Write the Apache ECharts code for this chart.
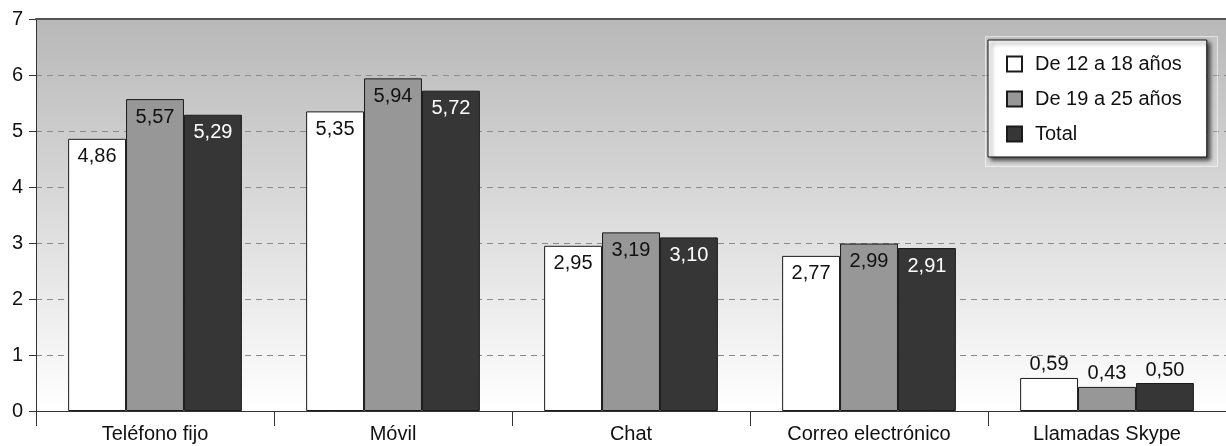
<!DOCTYPE html>
<html>
<head>
<meta charset="utf-8">
<script src="https://cdn.jsdelivr.net/npm/echarts@6/dist/echarts.min.js"></script>
<style>
  html, body { margin: 0; padding: 0; background: #fff; }
  #chart { width: 1226px; height: 446px; }
</style>
</head>
<body>
<div id="chart"></div>
<script>
// Categories and values per age group
var categories = ['Teléfono fijo', 'Móvil', 'Chat', 'Correo electrónico', 'Llamadas Skype'];
var seriesNames = ['De 12 a 18 años', 'De 19 a 25 años', 'Total'];
var age12to18 = [4.86, 5.35, 2.95, 2.77, 0.59];
var age19to25 = [5.57, 5.94, 3.19, 2.99, 0.43];
var total = [5.29, 5.72, 3.10, 2.91, 0.50];
var yTicks = [0, 1, 2, 3, 4, 5, 6, 7];

var FONT = '"Liberation Sans", Arial, Helvetica, sans-serif';
var FS = 20;
var fills = ['#ffffff', '#979797', '#363636'];
var labelColors = ['#111', '#111', '#fff'];

function fmt(v) { return v.toFixed(2).replace('.', ','); }

function makeSeries(name, values, idx) {
  return {
    name: name,
    type: 'bar',
    barGap: '0%',
    barCategoryGap: '27%',
    itemStyle: { color: fills[idx], borderColor: '#1a1a1a', borderWidth: 1 },
    label: {
      show: true,
      position: 'insideTop',
      distance: 8,
      fontFamily: FONT,
      fontSize: FS,
      color: labelColors[idx],
      formatter: function (p) { return fmt(p.value); }
    },
    data: values.map(function (v) {
      // short bars carry their label above the bar
      return v < 1 ? { value: v, label: { position: 'top', distance: 3, color: '#111' } } : v;
    })
  };
}

var chart = echarts.init(document.getElementById('chart'), null, { renderer: 'canvas' });
chart.setOption({
  animation: false,
  backgroundColor: '#ffffff',
  textStyle: { fontFamily: FONT },
  grid: {
    left: 36, right: 0, top: 19, bottom: 35,
    show: true,
    borderWidth: 0,
    backgroundColor: new echarts.graphic.LinearGradient(0, 0, 0, 1, [
      { offset: 0, color: '#b8b8b8' },
      { offset: 1, color: '#ffffff' }
    ])
  },
  graphic: [{
    // soft halo panel behind the legend
    type: 'rect',
    z: 3,
    shape: { x: 985.5, y: 36.5, width: 232, height: 130 },
    style: { fill: 'rgba(255,255,255,0.12)', stroke: 'rgba(255,255,255,0.55)', lineWidth: 1 }
  }],
  legend: {
    orient: 'vertical',
    left: 988, top: 40,
    padding: [14, 25, 13, 18],
    itemGap: 15,
    itemWidth: 15, itemHeight: 15,
    icon: 'rect',
    z: 5,
    backgroundColor: '#ffffff',
    borderColor: '#111',
    borderWidth: 1,
    shadowColor: 'rgba(0,0,0,0.65)',
    shadowBlur: 4,
    shadowOffsetX: 3,
    shadowOffsetY: 3,
    textStyle: { fontFamily: FONT, fontSize: FS, color: '#111', padding: [0, 0, 0, 8] },
    data: seriesNames
  },
  xAxis: [{
    type: 'category',
    data: categories,
    axisLine: { show: true, lineStyle: { color: '#333', width: 1 } },
    axisTick: { show: true, length: 15, interval: 0, lineStyle: { color: '#333' } },
    axisLabel: { fontFamily: FONT, fontSize: FS, color: '#111', margin: 13, interval: 0 },
    splitLine: { show: false }
  }, {
    type: 'category',
    position: 'top',
    data: categories,
    axisLine: { show: true, lineStyle: { color: '#555', width: 2 } },
    axisTick: { show: false },
    axisLabel: { show: false }
  }],
  yAxis: {
    type: 'value',
    min: yTicks[0], max: yTicks[yTicks.length - 1], interval: 1,
    axisLine: { show: true, lineStyle: { color: '#333', width: 1 } },
    axisTick: { show: true, length: 7, lineStyle: { color: '#333' } },
    axisLabel: { fontFamily: FONT, fontSize: FS, color: '#111', margin: 13 },
    splitLine: { show: true, lineStyle: { color: '#8a8a8a', type: [6, 5], width: 1 } }
  },
  series: [
    makeSeries(seriesNames[0], age12to18, 0),
    makeSeries(seriesNames[1], age19to25, 1),
    makeSeries(seriesNames[2], total, 2)
  ]
});
</script>
</body>
</html>
